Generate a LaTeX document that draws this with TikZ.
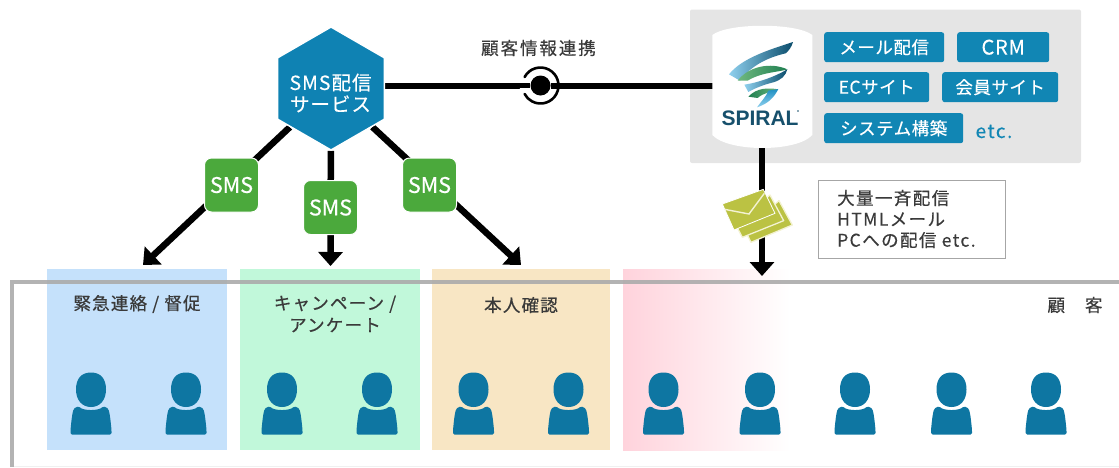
\documentclass[tikz,border=0pt]{standalone}
\usepackage{fontspec}
\setmainfont{Noto Sans CJK JP}
\newfontfamily\logofont{Liberation Sans}
\usetikzlibrary{arrows.meta,shapes.geometric}
\pgfdeclarelayer{bg}\pgfdeclarelayer{conn}
\pgfsetlayers{bg,conn,main}
\definecolor{panelgray}{HTML}{E5E5E5}
\definecolor{btnblue}{HTML}{1186B4}
\definecolor{hexblue}{HTML}{0F82B3}
\definecolor{smsgreen}{HTML}{4BA93C}
\definecolor{personblue}{HTML}{0E76A2}
\definecolor{txt}{HTML}{3A3A3A}
\definecolor{rblue}{HTML}{C5E1FB}
\definecolor{rgreen}{HTML}{C1F8DA}
\definecolor{rorange}{HTML}{F8E6C4}
\definecolor{rpink}{HTML}{FFD3DC}
\definecolor{framegray}{HTML}{ABABAB}
\definecolor{envcol}{HTML}{BBC243}
\definecolor{envline}{HTML}{F3F2D2}
\definecolor{logodark}{HTML}{0B4D6C}
\definecolor{logomid}{HTML}{1F8FC2}
\definecolor{logolight}{HTML}{8FD0EE}
\definecolor{logogreen}{HTML}{1F7F50}
\definecolor{logogreenl}{HTML}{6FB87F}
\definecolor{logotext}{HTML}{17506C}
\tikzset{
  conn/.style={draw=black,line width=6pt},
  connarrow/.style={draw=black,line width=6.5pt,-{Triangle[width=24pt,length=14pt]}},
  btn/.style={fill=btnblue,text=white,rounded corners=2.5pt,inner sep=0pt,anchor=north west,
    font=\fontsize{17.5}{21}\selectfont\addfontfeature{LetterSpace=3,FakeBold=0.3}},
  smsbox/.style={fill=smsgreen,draw=white,line width=1pt,text=white,rounded corners=7pt,
    minimum width=54pt,minimum height=54pt,inner sep=0pt,font=\fontsize{21.5}{21}\selectfont\addfontfeature{FakeBold=0.6}},
  grouplabel/.style={text=txt,align=center,inner sep=0pt,
    font=\fontsize{17.5}{22}\selectfont\addfontfeature{LetterSpace=7,FakeBold=0.6}},
  personbody/.pic={
    \fill[personblue,rounded corners=1.5pt] (-20.5,434.5) -- (-20.5,430)
      .. controls (-19.5,420) and (-18.5,409) .. (-15,407.5)
      -- (-12.5,406)
      .. controls (-8,411) and (8,411) .. (12.5,406)
      -- (15,407.5)
      .. controls (18.5,409) and (19.5,420) .. (20.5,430)
      -- (20.5,434.5) -- cycle;
    \fill[personblue] (0,372.5) .. controls (10,372.5) and (15,379) .. (15,389.5)
      .. controls (15,400) and (9,407) .. (0,407)
      .. controls (-9,407) and (-15,400) .. (-15,389.5)
      .. controls (-15,379) and (-10,372.5) .. (0,372.5) -- cycle;
  }
}
\begin{document}
\begin{tikzpicture}[x=1pt,y=-1pt]
\useasboundingbox (0,0) rectangle (1119,467);
% zones and frame
\begin{pgfonlayer}{bg}
  \fill[rblue] (47,269) rectangle (227,450);
  \fill[rgreen] (240,269) rectangle (420,450);
  \fill[rorange] (432,269) rectangle (610,450);
  \shade[left color=rpink,right color=white] (623,269) rectangle (790,450);
  \draw[framegray,line width=3.5pt,opacity=.9] (12,467) -- (12,282) -- (1119,282);
  \draw[black!6,line width=1pt] (14,466.5) -- (1119,466.5);
  \fill[panelgray,rounded corners=2pt] (690,9.5) rectangle (1081,163);
\end{pgfonlayer}
% hexagon and SMS
\node[regular polygon,regular polygon sides=6,shape border rotate=30,fill=hexblue,draw=white,line width=1.5pt,
  minimum size=123pt,inner sep=0pt] (hexn) at (331,88.5) {};
\node[text=white,align=center,inner sep=0pt,font=\fontsize{19.5}{21.5}\selectfont\addfontfeature{LetterSpace=5,FakeBold=0.3}] (hext) at (330.5,93) {SMS配信\\サービス};
\node[smsbox] (sa) at (231.5,185) {SMS};
\node[smsbox] (sb) at (330.5,207.5) {SMS};
\node[smsbox] (sc) at (429.5,185) {SMS};
\coordinate (ta) at (143,265);
\coordinate (tb) at (330.5,266);
\coordinate (tc) at (521,265);
\coordinate (td) at (762,276);
% logo
\node[minimum width=100pt,minimum height=122pt,inner sep=0pt] (logo) at (762,87) {};
\begin{scope}[shift={(705,20)},x=.3333pt,y=-.3333pt]
  \fill[white] (22,45) .. controls (70,8) and (275,8) .. (322,45) -- (322,345)
    .. controls (275,397) and (70,397) .. (22,345) -- cycle;
  \shade[left color=logolight,middle color=logomid,right color=logodark] (72,163) .. controls (110,115) and (190,90) .. (264,66)
    .. controls (260,80) and (252,92) .. (242,100) .. controls (190,112) and (140,135) .. (105,182) -- cycle;
  \shade[left color=logogreenl,right color=logogreen] (98,182) .. controls (130,140) and (195,125) .. (247,148)
    .. controls (225,156) and (170,156) .. (128,182) -- cycle;
  \shade[left color=logolight,middle color=logomid,right color=logodark] (118,194) .. controls (160,188) and (210,170) .. (247,148)
    .. controls (242,168) and (228,180) .. (205,187) .. controls (180,193) and (150,204) .. (130,216) -- cycle;
  \shade[left color=logogreen,right color=logogreenl] (130,230) .. controls (155,203) and (190,203) .. (220,208)
    .. controls (200,216) and (175,218) .. (158,234) -- cycle;
  \shade[bottom color=logolight,top color=logomid] (220,207) .. controls (208,232) and (188,252) .. (156,262)
    .. controls (168,245) and (185,228) .. (190,212) -- cycle;
  \fill[logotext] (279,273) circle (2.5);
\end{scope}
\node[text=logotext,inner sep=0pt,font=\logofont\fontsize{21}{21}\selectfont\bfseries] (logotxt) at (760,118) {SPIRAL};
% interface symbol on the line
\node[circle,minimum size=42pt,inner sep=0pt] (ifc) at (540.5,85.5) {};
\node[circle,fill=black,minimum size=20pt,inner sep=0pt] (ifd) at (540.5,85.5) {};
\fill[white] (ifc.center) circle (21);
\draw[black,line width=2.6pt,line cap=round] (ifc.center) ++(-15.9,-8.45) arc[start angle=-152,end angle=152,radius=18];
% connectors
\begin{pgfonlayer}{conn}
  \draw[conn] (hexn.center |- ifc) -- (logo.center |- ifc);
  \draw[connarrow] (hexn) -- (ta);
  \draw[connarrow] (hexn) -- (tb);
  \draw[connarrow] (hexn) -- (tc);
  \draw[connarrow] (logo) -- (td);
\end{pgfonlayer}
\draw[black,line width=5.5pt] (ifc.west) -- (ifd);
\draw[black,line width=6pt] (ifd) -- (ifc.east);
\node[circle,fill=black,minimum size=20pt,inner sep=0pt] at (540.5,85.5) {};
\node[text=txt,inner sep=0pt,font=\fontsize{17.5}{21}\selectfont\addfontfeature{LetterSpace=11,FakeBold=0.5}] (lk) at (538.5,48) {顧客情報連携};
% service buttons
\node[btn,minimum width=120pt,minimum height=30pt] (b1) at (824,32) {メール配信};
\node[btn,minimum width=92pt,minimum height=30pt,font=\fontsize{20}{21}\selectfont\addfontfeature{LetterSpace=4,FakeBold=0.3}] (b2) at (957,32) {CRM};
\node[btn,minimum width=105pt,minimum height=30pt] (b3) at (824,72) {ECサイト};
\node[btn,minimum width=116pt,minimum height=30pt] (b4) at (942,72) {会員サイト};
\node[btn,minimum width=139pt,minimum height=30pt] (b5) at (824,113) {システム構築};
\node[text=btnblue,inner sep=0pt,font=\fontsize{19}{21}\selectfont\addfontfeature{LetterSpace=8,FakeBold=0.3}] (etc) at (994,131.5) {etc.};
% envelopes
\begin{scope}[shift={(715,180)},x=.3333pt,y=-.3333pt]
  \filldraw[fill=envcol,draw=envline,line width=1.3pt,line join=round] (192,62) -- (232,135) -- (108,187) -- (90,150) -- cycle;
  \filldraw[fill=envcol,draw=envline,line width=1.3pt,line join=round] (165,45) -- (206,122) -- (82,172) -- (60,130) -- cycle;
  \filldraw[fill=envcol,draw=white,line width=.8pt,line join=round] (22,72) -- (145,28) -- (180,100) -- (57,150) -- cycle;
  \draw[envline,line width=1.4pt] (29,88) -- (102,102) -- (148,40);
\end{scope}
% info box
\node[draw=black!35,line width=1pt,minimum width=187pt,minimum height=78pt,inner sep=0pt,anchor=north west] (info) at (818,180) {};
\node[text=txt,align=left,anchor=west,inner sep=0pt,font=\fontsize{17.5}{21}\selectfont\addfontfeature{LetterSpace=8,FakeBold=0.4}] (infot) at (837,219) {大量一斉配信\\HTMLメール\\PCへの配信 etc.};
% labels
\node[grouplabel] (l1) at (137,304) {緊急連絡 / 督促};
\node[grouplabel] (l2) at (335,314) {キャンペーン /\\アンケート};
\node[grouplabel] (l3) at (521,305) {本人確認};
\node[grouplabel] (l4) at (1075,305) {顧\hspace{20pt}客};
% people
\foreach \px in {91,186,282,377,473.5,568.5,663.5,760,855,951.5,1046}
  \pic at (\px,0) {personbody};
\end{tikzpicture}
\end{document}
